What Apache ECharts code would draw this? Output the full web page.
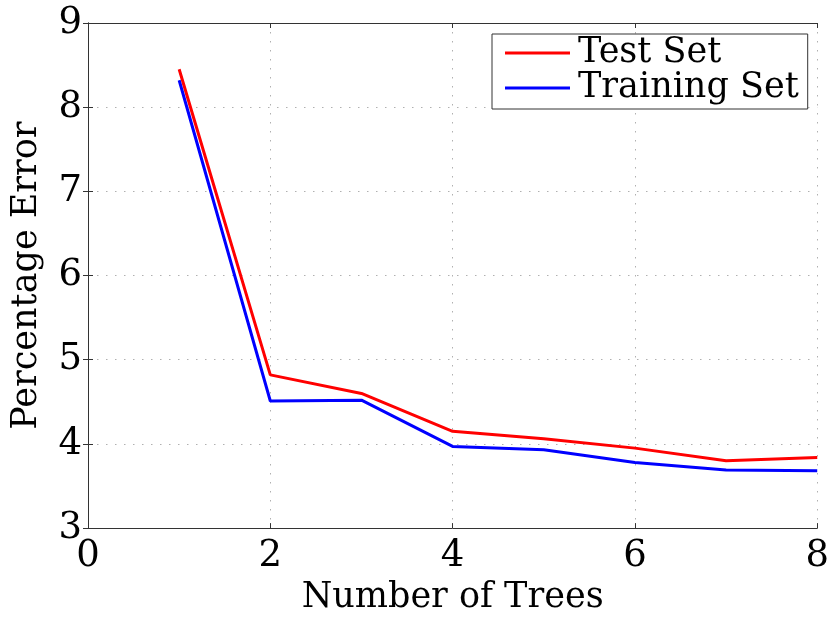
<!DOCTYPE html>
<html>
<head>
<meta charset="utf-8">
<script src="https://cdn.jsdelivr.net/npm/echarts@6/dist/echarts.min.js"></script>
<style>html,body{margin:0;padding:0;background:#fff}#c{width:832px;height:620px}</style>
</head>
<body>
<div id="c"></div>
<script>
const trees = [1, 2, 3, 4, 5, 6, 7, 8];
const testSet = [8.45, 4.82, 4.60, 4.15, 4.06, 3.95, 3.80, 3.84];
const trainingSet = [8.32, 4.51, 4.52, 3.97, 3.93, 3.78, 3.69, 3.68];
const seriesNames = ['Test Set', 'Training Set'];
const xName = 'Number of Trees';
const yName = 'Percentage Error';

const FONT = 'DejaVu Serif';
const axisColor = '#333';
const chart = echarts.init(document.getElementById('c'), null, {renderer: 'canvas'});

const pairs = (ys) => trees.map((x, i) => [x, ys[i]]);

const tickStyle = {show: true, inside: true, length: 5, lineStyle: {color: axisColor, width: 1}};
const gridStyle = {show: true, lineStyle: {color: '#b0b0b0', width: 1, type: [1.5, 7.5]}};

chart.setOption({
  animation: false,
  backgroundColor: '#fff',
  grid: {left: 88, right: 14, top: 23, bottom: 90, containLabel: false},
  legend: {
    left: 492, top: 34,
    orient: 'vertical',
    data: seriesNames,
    icon: 'rect',
    itemWidth: 65, itemHeight: 3,
    itemGap: 0,
    padding: [1.5, 9, 3.5, 13],
    borderColor: axisColor, borderWidth: 1,
    backgroundColor: '#fff',
    textStyle: {fontFamily: FONT, fontSize: 35, color: '#000', lineHeight: 35, padding: [0, 0, 0, 3]}
  },
  xAxis: [{
    type: 'value', min: 0, max: 8, interval: 2,
    name: xName, nameLocation: 'middle', nameGap: 49,
    nameTextStyle: {fontFamily: FONT, fontSize: 35, color: '#000'},
    axisLine: {show: true, lineStyle: {color: axisColor, width: 1}},
    axisTick: tickStyle,
    axisLabel: {fontFamily: FONT, fontSize: 37, color: '#000', margin: 10},
    splitLine: gridStyle
  }, {
    type: 'value', min: 0, max: 8, interval: 2, position: 'top',
    axisLine: {show: true, lineStyle: {color: axisColor, width: 1}},
    axisTick: tickStyle, axisLabel: {show: false}, splitLine: {show: false}
  }],
  yAxis: [{
    type: 'value', min: 3, max: 9, interval: 1,
    name: yName, nameLocation: 'middle', nameGap: 44, nameRotate: 90,
    nameTextStyle: {fontFamily: FONT, fontSize: 35, color: '#000'},
    axisLine: {show: true, lineStyle: {color: axisColor, width: 1}},
    axisTick: tickStyle,
    axisLabel: {fontFamily: FONT, fontSize: 37, color: '#000', margin: 6},
    splitLine: gridStyle
  }, {
    type: 'value', min: 3, max: 9, interval: 1, position: 'right',
    axisLine: {show: true, lineStyle: {color: axisColor, width: 1}},
    axisTick: tickStyle, axisLabel: {show: false}, splitLine: {show: false}
  }],
  series: [{
    name: seriesNames[0], type: 'line', data: pairs(testSet),
    showSymbol: false, symbol: 'none', color: '#ff0000',
    lineStyle: {color: '#ff0000', width: 3}
  }, {
    name: seriesNames[1], type: 'line', data: pairs(trainingSet),
    showSymbol: false, symbol: 'none', color: '#0000ff',
    lineStyle: {color: '#0000ff', width: 3}
  }]
});
</script>
</body>
</html>
